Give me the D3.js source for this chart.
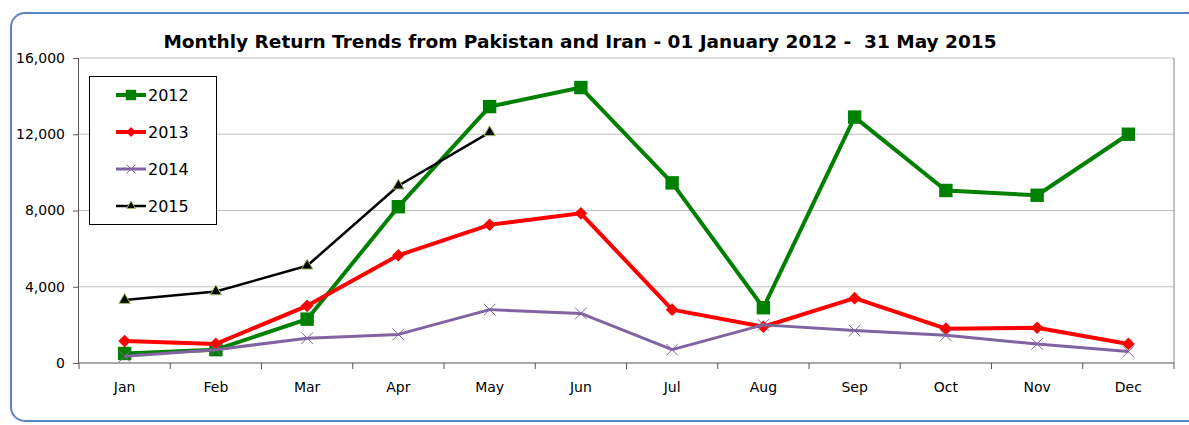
<!DOCTYPE html>
<html>
<head>
<meta charset="utf-8">
<script src="https://d3js.org/d3.v7.min.js"></script>
<style>
body { margin: 0; background: #fff; }
text { font-family: "DejaVu Sans", Verdana, sans-serif; fill: #000; }
.grid line { stroke: #c0c0c0; stroke-width: 1; }
.axis path, .axis line { stroke: #555; }
.axis text { font-size: 14px; }
</style>
</head>
<body>
<script>

  var months = ["Jan", "Feb", "Mar", "Apr", "May", "Jun", "Jul", "Aug", "Sep", "Oct", "Nov", "Dec"];
  var yTicks = [0, 4000, 8000, 12000, 16000];

  var v2012 = [500, 700, 2300, 8200, 13450, 14450, 9450, 2900, 12900, 9050, 8800, 12000];
  var v2013 = [1150, 1000, 3000, 5650, 7250, 7850, 2800, 1900, 3400, 1800, 1850, 1000];
  var v2014 = [350, 700, 1300, 1500, 2800, 2600, 700, 2000, 1700, 1450, 1000, 600];
  var v2015 = [3300, 3750, 5100, 9300, 12100];

  var width = 1189,
      height = 425,
      margin = {top: 58, right: 15, bottom: 62, left: 79};

  var svg = d3.select("body").append("svg")
    .attr("width", width)
    .attr("height", height);

  // outer frame
  svg.append("rect")
    .attr("x", 11).attr("y", 13)
    .attr("width", 1190).attr("height", 408)
    .attr("rx", 14)
    .attr("fill", "none")
    .attr("stroke", "#5a86c0")
    .attr("stroke-width", 2);

  var x = d3.scaleBand()
    .domain(months)
    .range([margin.left, width - margin.right]);

  var y = d3.scaleLinear()
    .domain([0, 16000])
    .range([height - margin.bottom, margin.top]);

  // gridlines
  svg.append("g").attr("class", "grid")
    .selectAll("line")
    .data(yTicks.slice(1))
    .enter().append("line")
    .attr("x1", margin.left).attr("x2", width - margin.right)
    .attr("y1", function(d) { return y(d); })
    .attr("y2", function(d) { return y(d); });

  // right border of plot area
  svg.append("line")
    .attr("x1", width - margin.right).attr("x2", width - margin.right)
    .attr("y1", margin.top).attr("y2", height - margin.bottom)
    .attr("stroke", "#888");

  var yAxis = svg.append("g").attr("class", "axis")
    .attr("transform", "translate(" + margin.left + ",0)")
    .call(d3.axisLeft(y).tickValues(yTicks).tickSize(6).tickPadding(8)
      .tickFormat(d3.format(",")));
  yAxis.select(".domain").attr("d", "M-0.5," + y(0) + "V" + y(16000));

  var xAxis = svg.append("g").attr("class", "axis")
    .attr("transform", "translate(0," + y(0) + ")")
    .call(d3.axisBottom(x).tickSize(0).tickPadding(19));
  xAxis.select(".domain").attr("d", "M" + margin.left + ",0H" + (width - margin.right));
  // ticks at category boundaries
  xAxis.selectAll(".bound")
    .data(d3.range(months.length + 1))
    .enter().append("line")
    .attr("class", "bound")
    .attr("x1", function(i) { return margin.left + i * x.step(); })
    .attr("x2", function(i) { return margin.left + i * x.step(); })
    .attr("y1", 0).attr("y2", 6);

  var line = d3.line()
    .x(function(d, i) { return x(months[i]) + x.bandwidth() / 2; })
    .y(function(d) { return y(d); });

  var series = [
    {name: "2012", values: v2012, color: "#008000", width: 4, symbol: d3.symbolSquare, size: 180, rot: 0, fill: "#008000", stroke: "none"},
    {name: "2013", values: v2013, color: "#ff0000", width: 4, symbol: d3.symbolSquare, size: 80, rot: 45, fill: "#ff0000", stroke: "none"},
    {name: "2014", values: v2014, color: "#8064a2", width: 3, symbol: d3.symbolTimes, size: 90, rot: 0, fill: "none", stroke: "#8064a2"},
    {name: "2015", values: v2015, color: "#000000", width: 2.5, symbol: d3.symbolTriangle, size: 55, rot: 0, fill: "#000", stroke: "#9bbb59"}
  ];

  series.forEach(function(s) {
    svg.append("path")
      .datum(s.values)
      .attr("fill", "none")
      .attr("stroke", s.color)
      .attr("stroke-width", s.width)
      .attr("stroke-linejoin", "round")
      .attr("d", line);

    svg.append("g").selectAll("path")
      .data(s.values)
      .enter().append("path")
      .attr("transform", function(d, i) {
        return "translate(" + (x(months[i]) + x.bandwidth() / 2) + "," + y(d) + ") rotate(" + s.rot + ")";
      })
      .attr("d", d3.symbol().type(s.symbol).size(s.size))
      .attr("fill", s.fill)
      .attr("stroke", s.stroke)
      .attr("stroke-width", 1);
  });

  // legend
  var legend = svg.append("g");
  legend.append("rect")
    .attr("x", 89.5).attr("y", 76.5)
    .attr("width", 127).attr("height", 148)
    .attr("fill", "#fff")
    .attr("stroke", "#000");

  var item = legend.selectAll(".item")
    .data(series)
    .enter().append("g")
    .attr("class", "item")
    .attr("transform", function(d, i) { return "translate(0," + (95 + i * 37) + ")"; });

  item.append("line")
    .attr("x1", 116).attr("x2", 146)
    .attr("stroke", function(d) { return d.color; })
    .attr("stroke-width", function(d) { return d.width; });
  item.append("path")
    .attr("transform", function(d) { return "translate(131,0) rotate(" + d.rot + ")"; })
    .attr("d", function(d) { return d3.symbol().type(d.symbol).size(d.size * 0.6)(); })
    .attr("fill", function(d) { return d.fill; })
    .attr("stroke", function(d) { return d.stroke; });
  item.append("text")
    .attr("x", 148).attr("y", 6)
    .style("font-size", "16px")
    .text(function(d) { return d.name; });

  // title
  svg.append("text")
    .attr("x", 580).attr("y", 48)
    .attr("text-anchor", "middle")
    .style("font-size", "18.5px")
    .style("font-weight", "bold")
    .style("white-space", "pre")
    .text("Monthly Return Trends from Pakistan and Iran - 01 January 2012 -  31 May 2015");

</script>
</body>
</html>
